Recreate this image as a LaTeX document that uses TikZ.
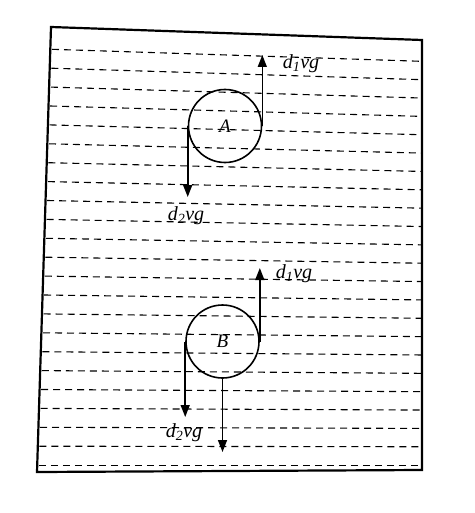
\documentclass[tikz,border=0pt]{standalone}
\usepackage{fontspec}
\setmainfont{Liberation Serif}
\usepackage{tikz}
\usetikzlibrary{arrows.meta}
\tikzset{
  ball/.style = {circle, draw=black, line width=1.6pt, minimum size=73pt,
    inner sep=0pt, font=\fontsize{19}{22}\selectfont\itshape},% body in liquid
  force/.style = {-{Triangle[length=12pt,width=9pt]}, line width=1.6pt},% force arrow
  flabel/.style = {inner sep=1pt, font=\fontsize{20}{23}\selectfont\itshape},% force label
  water/.style = {dash pattern=on 7pt off 5pt, line width=1.1pt}% liquid level lines
}
\newcommand{\dvg}[1]{d\textsubscript{#1}vg}

\begin{document}
\begin{tikzpicture}[x=1pt,y=-1pt]
    \useasboundingbox (0,0) rectangle (474,513);
    % vessel
    \draw[line width=2.2pt] (51,27) -- (422,40) -- (422,470) -- (37,472) -- cycle;
    % liquid
    \foreach \i in {0,...,22}{
      \pgfmathsetmacro{\yl}{49.3+\i*18.9}
      \pgfmathsetmacro{\yr}{\yl+12*(1-\i/22)}
      \pgfmathsetmacro{\xl}{52-\i*0.6}
      \draw[water] (\xl,\yl) -- (421,\yr);
    }
    % bodies
    \node[ball] (A) at (225,126) {A};
    \node[ball] (B) at (222.5,341.5) {B};
    % forces on A
    \coordinate (Aup) at (A.east |- 0,55);
    \coordinate (Adown) at (A.west |- 0,197);
    \draw[force] (A.east) -- (Aup);
    \draw[force] (A.west) -- (Adown);
    \node[flabel] (Aup label) at (301,64) {\dvg{1}};
    \node[flabel] (Adown label) at (186,216) {\dvg{2}};
    % forces on B
    \coordinate (Bup) at (B.east |- 0,268);
    \coordinate (Bdown) at (B.west |- 0,417);
    \coordinate (Bweight) at (B.south |- 0,452);
    \draw[force] (B.east) -- (Bup);
    \draw[force] (B.west) -- (Bdown);
    \draw[force] (B.south) -- (Bweight);
    \node[flabel] (Bup label) at (294,274) {\dvg{1}};
    \node[flabel] (Bdown label) at (184,433) {\dvg{2}};
\end{tikzpicture}
\end{document}
